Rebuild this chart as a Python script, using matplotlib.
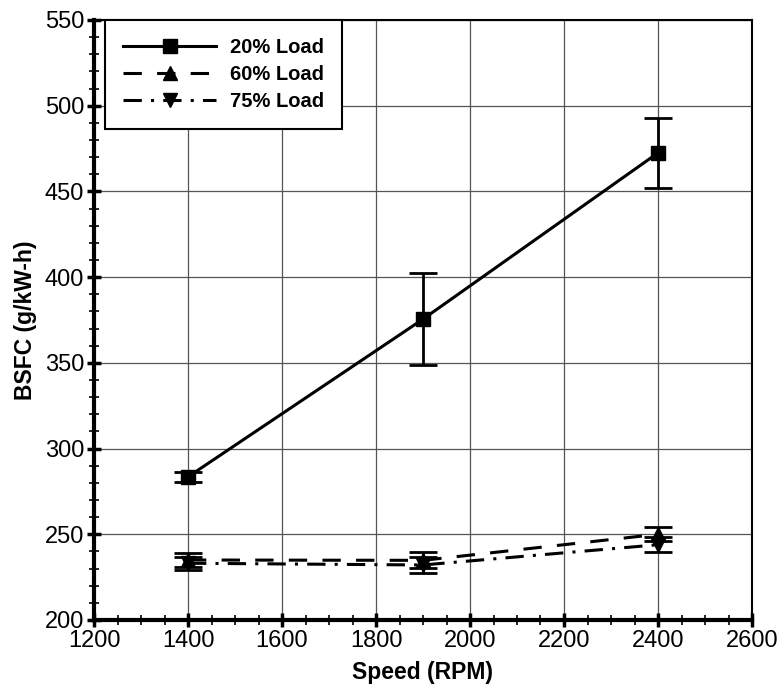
import numpy as np
import matplotlib.pyplot as plt
from matplotlib.lines import Line2D
from matplotlib.ticker import MultipleLocator

plt.rcParams['font.family'] = ['Liberation Sans', 'DejaVu Sans']

speed = [1400, 1900, 2400]

bsfc_20 = [283.5, 375.5, 472.5]
err_20 = [2.8, 27.0, 20.3]

bsfc_60 = [235.0, 234.8, 250.0]
err_60 = [3.9, 4.6, 4.2]

bsfc_75 = [233.1, 232.1, 243.9]
err_75 = [3.9, 4.5, 4.4]

labels = ['20% Load', '60% Load', '75% Load']
markers = ['s', '^', 'v']
styles = ['-', (0, (6, 5)), (0, (6, 3, 1, 3))]

fig = plt.figure(figsize=(7.8, 6.87), dpi=100)
ax = fig.add_axes([94 / 780, 67 / 687, (752 - 94) / 780, 600 / 687])

ax.grid(True, which='major', color='#555555', linewidth=0.9)
ax.set_axisbelow(True)

common = dict(color='black', ecolor='black', elinewidth=2.0, capsize=10,
              capthick=2.0, linewidth=2.2, markersize=10)

series = [(bsfc_20, err_20), (bsfc_60, err_60), (bsfc_75, err_75)]
handles = []
for (vals, errs), lab, mk, ls in zip(series, labels, markers, styles):
    ax.errorbar(speed, vals, yerr=errs, marker=mk, linestyle=ls, **common)
    handles.append(Line2D([], [], color='black', marker=mk, linestyle=ls,
                          linewidth=2.2, markersize=10, label=lab))

ax.set_xlim(1200, 2600)
ax.set_ylim(200, 550)
ax.xaxis.set_major_locator(MultipleLocator(200))
ax.xaxis.set_minor_locator(MultipleLocator(50))
ax.yaxis.set_major_locator(MultipleLocator(50))
ax.yaxis.set_minor_locator(MultipleLocator(10))
ax.tick_params(which='major', direction='inout', length=10, width=2.5,
               labelsize=17, pad=2)
ax.tick_params(which='minor', direction='inout', length=7, width=1.2)

for side in ['left', 'bottom']:
    ax.spines[side].set_linewidth(3)
for side in ['top', 'right']:
    ax.spines[side].set_linewidth(1.5)

ax.set_xlabel('Speed (RPM)', fontsize=16.5, fontweight='bold', labelpad=7)
ax.set_ylabel('BSFC (g/kW-h)', fontsize=16.5, fontweight='bold', labelpad=6)

leg = ax.legend(handles=handles, loc='upper left',
                bbox_to_anchor=(0.017, 1.0),
                prop={'weight': 'bold', 'size': 14.5}, handlelength=4.6,
                fancybox=False, framealpha=1, edgecolor='black',
                borderpad=0.9, labelspacing=0.4, handletextpad=0.7,
                borderaxespad=0)
leg.get_frame().set_linewidth(1.5)

fig.savefig('out.png', dpi=100)
